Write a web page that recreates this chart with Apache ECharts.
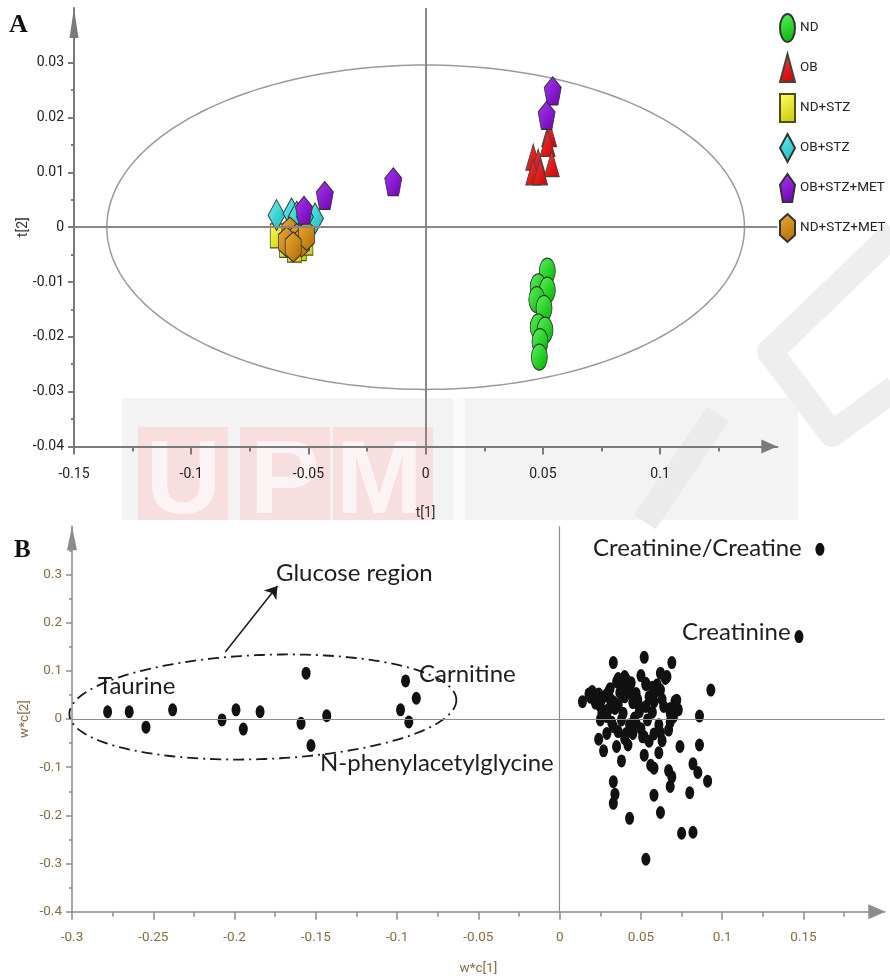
<!DOCTYPE html>
<html>
<head>
<meta charset="utf-8">
<script src="https://cdn.jsdelivr.net/npm/echarts@6/dist/echarts.min.js"></script>
<style>
  html, body { margin: 0; padding: 0; background: #ffffff; }
  #chart { width: 890px; height: 980px; }
</style>
</head>
<body>
<div id="chart"></div>
<script>
// ---------- Panel A: OPLS-DA score plot, t[1] vs t[2] ----------
const GROUP_NAMES = ['ND', 'OB', 'ND+STZ', 'OB+STZ', 'OB+STZ+MET', 'ND+STZ+MET'];

const ND_SCORES = [
  [0.0519, -0.0080], [0.0480, -0.0109], [0.0519, -0.0115], [0.0474, -0.0132],
  [0.0505, -0.0148], [0.0480, -0.0182], [0.0509, -0.0188], [0.0488, -0.0209],
  [0.0485, -0.0237]
];
const OB_SCORES = [
  [0.0527, 0.0171], [0.0520, 0.0153], [0.0459, 0.0128], [0.0480, 0.0119],
  [0.0538, 0.0116], [0.0459, 0.0101], [0.0488, 0.0101]
];
const ND_STZ_SCORES = [
  [-0.0633, -0.0016], [-0.0539, -0.0039], [-0.0593, -0.0033], [-0.0511, -0.0029],
  [-0.0560, -0.0042]
];
const OB_STZ_SCORES = [
  [-0.0636, 0.0022], [-0.0572, 0.0025], [-0.0550, 0.0019], [-0.0472, 0.0016],
  [-0.0515, 0.0019]
];
const OB_STZ_MET_SCORES = [
  [0.0542, 0.0249], [0.0516, 0.0204], [-0.0138, 0.0083], [-0.0430, 0.0058],
  [-0.0519, 0.0031]
];
const ND_STZ_MET_SCORES = [
  [-0.0579, -0.0009], [-0.0550, -0.0021], [-0.0529, -0.0027], [-0.0593, -0.0027],
  [-0.0508, -0.0015], [-0.0565, -0.0036]
];

// Hotelling's T2 ellipse semi-axes (t[1], t[2])
const T2_SEMI_AXES = [0.136, 0.0296];

const A_X_TICKS = [-0.15, -0.1, -0.05, 0, 0.05, 0.1];
const A_Y_TICKS = [-0.04, -0.03, -0.02, -0.01, 0, 0.01, 0.02, 0.03];

// ---------- Panel B: loading plot, w*c[1] vs w*c[2] ----------
const GLUCOSE_LOADINGS = [
  [-0.2781, 0.015], [-0.2648, 0.015], [-0.2545, -0.017], [-0.2381, 0.019],
  [-0.2077, -0.002], [-0.1991, 0.019], [-0.1946, -0.021], [-0.1843, 0.015],
  [-0.1560, 0.095], [-0.1591, -0.009], [-0.1433, 0.007], [-0.1530, -0.055],
  [-0.0948, 0.079], [-0.0882, 0.043], [-0.0979, 0.019], [-0.0928, -0.006]
];
const CREATININE_LOADINGS = [[0.1601, 0.352], [0.1472, 0.171]];
const OTHER_LOADINGS = [
  [0.033, 0.117], [0.052, 0.128], [0.069, 0.117], [0.093, 0.060], [0.014, 0.036],
  [0.086, 0.006], [0.024, -0.042], [0.027, -0.066], [0.038, -0.087], [0.074, -0.057],
  [0.086, -0.054], [0.061, -0.070], [0.052, -0.075], [0.058, -0.102], [0.056, -0.096],
  [0.067, -0.107], [0.069, -0.120], [0.068, -0.140], [0.082, -0.093], [0.085, -0.111],
  [0.091, -0.129], [0.080, -0.153], [0.033, -0.130], [0.034, -0.156], [0.033, -0.175],
  [0.043, -0.206], [0.058, -0.158], [0.062, -0.194], [0.075, -0.237], [0.082, -0.235],
  [0.053, -0.291], [0.071, 0.037], [0.065, 0.084], [0.062, 0.095], [0.040, 0.088],
  [0.035, 0.077], [0.053, 0.071], [0.068, 0.022], [0.068, -0.006], [0.067, -0.023],
  [0.062, -0.028], [0.052, -0.037], [0.042, -0.054], [0.035, -0.057],
  [0.023, 0.039], [0.020, 0.057], [0.025, 0.026], [0.029, 0.005], [0.033, 0.036],
  [0.036, 0.084], [0.041, 0.081], [0.040, 0.046], [0.047, 0.053], [0.049, 0.026],
  [0.053, 0.074], [0.054, -0.002], [0.058, 0.036], [0.062, 0.060], [0.064, 0.026],
  [0.066, 0.088], [0.068, 0.012], [0.072, 0.039], [0.033, -0.016], [0.038, -0.002],
  [0.025, -0.002], [0.029, -0.030], [0.041, -0.030], [0.047, -0.009], [0.051, -0.037],
  [0.018, 0.052], [0.019, 0.045], [0.021, 0.048], [0.022, 0.033], [0.024, 0.052],
  [0.026, 0.042], [0.027, 0.016], [0.028, 0.048], [0.030, 0.056], [0.030, 0.020],
  [0.031, 0.063], [0.032, -0.007], [0.034, 0.022], [0.036, 0.030], [0.037, 0.055],
  [0.039, 0.012], [0.042, 0.064], [0.043, -0.012], [0.045, 0.034], [0.046, 0.002],
  [0.049, 0.015], [0.055, 0.046], [0.057, 0.014], [0.059, 0.058], [0.061, -0.012],
  [0.063, 0.041], [0.060, 0.071], [0.070, 0.005], [0.073, 0.019], [0.036, -0.026],
  [0.040, -0.041], [0.045, -0.030], [0.050, -0.020], [0.055, -0.046], [0.058, -0.031],
  [0.063, -0.045], [0.044, 0.075], [0.050, 0.090], [0.057, 0.066], [0.026, 0.010],
  [0.031, 0.042], [0.038, 0.067], [0.044, 0.052], [0.048, 0.040], [0.053, 0.026]
];

// Dash-dot outline around the glucose signals: centre, semi-axes, tilt (deg)
const GLUCOSE_OUTLINE_CENTER = [-0.1826, 0.0249];
const GLUCOSE_OUTLINE_SEMI_AXES = [0.1191, 0.108];
const GLUCOSE_OUTLINE_TILT = 2.2;
// Pointer from the outline to its caption
const GLUCOSE_POINTER = [[-0.2057, 0.139], [-0.1736, 0.276]];

const B_X_TICKS = [-0.3, -0.25, -0.2, -0.15, -0.1, -0.05, 0, 0.05, 0.1, 0.15];
const B_Y_TICKS = [-0.4, -0.3, -0.2, -0.1, 0, 0.1, 0.2, 0.3];

// ---------- styling ----------
const TICK_FONT = "Roboto, 'Liberation Sans', sans-serif";
const HUMAN = "Lato, 'Open Sans', sans-serif";
const B_LABEL_COLOR = '#8a6a40';

function grad(c1, c2) {
  return { type: 'linear', x: 0, y: 0, x2: 1, y2: 1,
    colorStops: [{ offset: 0, color: c1 }, { offset: 1, color: c2 }] };
}
const PENTAGON = 'path://M50 0 L100 38 L81 100 L19 100 L0 38 Z';
const HEXAGON = 'path://M50 0 L100 25 L100 75 L50 100 L0 75 L0 25 Z';
const OVAL = 'path://M0 50 A50 50 0 1 0 100 50 A50 50 0 1 0 0 50 Z';

function fmt(v) { return String(+Number(v).toFixed(3)); }

function scoreSeries(name, data, symbol, size, c1, c2, border) {
  return {
    name, type: 'scatter', xAxisIndex: 0, yAxisIndex: 0, data,
    symbol, symbolSize: size, symbolKeepAspect: false,
    itemStyle: { color: grad(c1, c2), borderColor: border, borderWidth: 1, opacity: 1 },
    emphasis: { disabled: true }
  };
}

function ellipseSeries(gridIdx, center, semi, tiltDeg, stroke, width, dash) {
  return {
    type: 'custom', xAxisIndex: gridIdx, yAxisIndex: gridIdx, silent: true,
    data: [center], z: 1,
    renderItem: function (params, api) {
      const c = api.coord([api.value(0), api.value(1)]);
      const r = api.size(semi);
      const t = tiltDeg * Math.PI / 180;
      const pts = [];
      for (let i = 0; i <= 240; i++) {
        const a = i / 240 * Math.PI * 2;
        const ex = r[0] * Math.cos(a), ey = r[1] * Math.sin(a);
        pts.push([c[0] + ex * Math.cos(t) + ey * Math.sin(t),
                  c[1] - ex * Math.sin(t) + ey * Math.cos(t)]);
      }
      return { type: 'polyline', shape: { points: pts },
        style: { stroke, lineWidth: width, fill: null, lineDash: dash || null } };
    }
  };
}

// Faint repository watermark behind panel A
const watermark = [
  { type: 'rect', z: -5, silent: true, shape: { x: 122, y: 398, width: 676, height: 122 },
    style: { fill: '#f3f3f3' } },
  { type: 'rect', z: -5, silent: true, shape: { x: 453, y: 398, width: 12, height: 122 },
    style: { fill: '#fafafa' } },
  { type: 'rect', z: -4, silent: true, shape: { x: 138, y: 427, width: 90, height: 93 },
    style: { fill: '#f7dfdf' } },
  { type: 'rect', z: -4, silent: true, shape: { x: 240, y: 427, width: 90, height: 93 },
    style: { fill: '#f7dfdf' } },
  { type: 'rect', z: -4, silent: true, shape: { x: 333, y: 427, width: 100, height: 93 },
    style: { fill: '#f7dfdf' } },
  { type: 'text', z: -3, silent: true, left: 146, top: 432,
    style: { text: 'U', font: "bold 104px 'Liberation Sans', sans-serif", fill: '#fcf4f4' } },
  { type: 'text', z: -3, silent: true, left: 250, top: 432,
    style: { text: 'P', font: "bold 104px 'Liberation Sans', sans-serif", fill: '#fcf4f4' } },
  { type: 'text', z: -3, silent: true, left: 336, top: 432,
    style: { text: 'M', font: "bold 104px 'Liberation Sans', sans-serif", fill: '#fcf4f4' } },
  { type: 'line', z: -2, silent: true, shape: { x1: 645, y1: 522, x2: 718, y2: 414 },
    style: { stroke: '#ebebeb', lineWidth: 26 } },
  { type: 'polyline', z: -2, silent: true,
    shape: { points: [[895, 232], [770, 352], [832, 434], [895, 388]] },
    style: { stroke: '#eeeeee', lineWidth: 26, fill: null, lineJoin: 'round' } }
];

const chart = echarts.init(document.getElementById('chart'), null, { renderer: 'canvas' });

const axisA = { color: '#7a7a7a', width: 2 };
const axisB = { color: '#8c8c8c', width: 1.5 };

const option = {
  backgroundColor: '#ffffff',
  animation: false,
  grid: [
    { left: 74, top: 8, width: 703.3, height: 438.4 },
    { left: 72, top: 526.2, width: 812.8, height: 385.6 }
  ],
  xAxis: [
    {
      gridIndex: 0, type: 'value', min: -0.15, max: 0.15, interval: 0.05,
      name: 't[1]', nameLocation: 'middle', nameGap: 60,
      nameTextStyle: { fontFamily: TICK_FONT, fontSize: 14, color: '#333' },
      axisLine: { onZero: false, lineStyle: axisA, symbol: ['none', 'triangle'], symbolSize: [14, 16], symbolOffset: [0, -8] },
      axisTick: { customValues: A_X_TICKS, length: 8, lineStyle: axisA },
      minorTick: { show: true, splitNumber: 2, length: 5, lineStyle: axisA },
      axisLabel: { customValues: A_X_TICKS, formatter: fmt, margin: 21,
        fontFamily: TICK_FONT, fontSize: 14, color: '#222' },
      splitLine: { show: false }
    },
    {
      gridIndex: 1, type: 'value', min: -0.3, max: 0.2, interval: 0.05,
      name: 'w*c[1]', nameLocation: 'middle', nameGap: 50,
      nameTextStyle: { fontFamily: TICK_FONT, fontSize: 13.5, color: B_LABEL_COLOR },
      axisLine: { onZero: false, lineStyle: axisB, symbol: ['none', 'triangle'], symbolSize: [15, 17], symbolOffset: [0, -8] },
      axisTick: { customValues: B_X_TICKS, length: 8, lineStyle: axisB },
      minorTick: { show: true, splitNumber: 2, length: 5, lineStyle: axisB },
      axisLabel: { customValues: B_X_TICKS, formatter: fmt, margin: 19,
        fontFamily: TICK_FONT, fontSize: 13.5, color: B_LABEL_COLOR },
      splitLine: { show: false }
    }
  ],
  yAxis: [
    {
      gridIndex: 0, type: 'value', min: -0.04, max: 0.04, interval: 0.01,
      name: 't[2]', nameLocation: 'middle', nameGap: 44, nameMoveOverlap: false,
      nameTextStyle: { fontFamily: TICK_FONT, fontSize: 14, color: '#333' },
      axisLine: { onZero: false, lineStyle: axisA, symbol: ['none', 'triangle'], symbolSize: [9, 30], symbolOffset: [0, -15] },
      axisTick: { customValues: A_Y_TICKS, length: 6, lineStyle: axisA },
      minorTick: { show: true, splitNumber: 2, length: 3, lineStyle: axisA },
      axisLabel: { customValues: A_Y_TICKS, formatter: fmt, margin: 10,
        fontFamily: TICK_FONT, fontSize: 14, color: '#222' },
      splitLine: { show: false }
    },
    {
      gridIndex: 1, type: 'value', min: -0.4, max: 0.4, interval: 0.1,
      name: 'w*c[2]', nameLocation: 'middle', nameGap: 40, nameMoveOverlap: false,
      nameTextStyle: { fontFamily: TICK_FONT, fontSize: 13.5, color: B_LABEL_COLOR },
      axisLine: { onZero: false, lineStyle: axisB, symbol: ['none', 'triangle'], symbolSize: [10, 24], symbolOffset: [0, -12] },
      axisTick: { customValues: B_Y_TICKS, length: 6, lineStyle: axisB },
      minorTick: { show: true, splitNumber: 2, length: 3, lineStyle: axisB },
      axisLabel: { customValues: B_Y_TICKS, formatter: fmt, margin: 10,
        fontFamily: TICK_FONT, fontSize: 13.5, color: B_LABEL_COLOR },
      splitLine: { show: false }
    }
  ],
  legend: {
    data: [{ name: 'ND', icon: OVAL }].concat(GROUP_NAMES.slice(1)),
    orient: 'vertical', left: 779, top: 13, padding: 0,
    itemWidth: 15, itemHeight: 28, itemGap: 10, symbolKeepAspect: false,
    textStyle: { fontFamily: TICK_FONT, fontSize: 13.5, color: '#222' },
    selectedMode: false
  },
  graphic: watermark.concat([
    { type: 'text', left: 9, top: 12, z: 10,
      style: { text: 'A', font: "bold 26px 'Liberation Serif', 'DejaVu Serif', serif", fill: '#111' } },
    { type: 'text', left: 14, top: 538, z: 10,
      style: { text: 'B', font: "bold 25px 'Liberation Serif', 'DejaVu Serif', serif", fill: '#111' } },
    { type: 'text', left: 276, top: 561, z: 10,
      style: { text: 'Glucose region', font: '24px ' + HUMAN, fill: '#1e1e1e' } },
    { type: 'text', left: 98, top: 674, z: 10,
      style: { text: 'Taurine', font: '24px ' + HUMAN, fill: '#1e1e1e' } },
    { type: 'text', left: 419, top: 662, z: 10,
      style: { text: 'Carnitine', font: '24px ' + HUMAN, fill: '#1e1e1e' } },
    { type: 'text', left: 320, top: 751, z: 10,
      style: { text: 'N-phenylacetylglycine', font: '24px ' + HUMAN, fill: '#1e1e1e' } },
    { type: 'text', left: 593, top: 536, z: 10,
      style: { text: 'Creatinine/Creatine', font: '24px ' + HUMAN, fill: '#1e1e1e' } },
    { type: 'text', left: 682, top: 620, z: 10,
      style: { text: 'Creatinine', font: '24px ' + HUMAN, fill: '#1e1e1e' } }
  ]),
  series: [
    ellipseSeries(0, [0, 0], T2_SEMI_AXES, 0, '#9a9a9a', 1.5, null),
    {
      type: 'scatter', xAxisIndex: 0, yAxisIndex: 0, data: [], silent: true,
      markLine: {
        silent: true, symbol: ['none', 'none'], label: { show: false },
        lineStyle: { color: '#888888', width: 2, type: 'solid' },
        data: [{ yAxis: 0 }, { xAxis: 0 }]
      }
    },
    scoreSeries('ND', ND_SCORES, 'circle', [16, 26], '#5cf55c', '#00b000', '#333'),
    scoreSeries('OB', OB_SCORES, 'triangle', [15, 26], '#ff3a3a', '#c80000', '#444'),
    scoreSeries('ND+STZ', ND_STZ_SCORES, 'rect', [14, 24], '#ffff66', '#c8c800', '#4d4d1a'),
    scoreSeries('OB+STZ', OB_STZ_SCORES, 'diamond', [17, 31], '#6af2f2', '#14b4b4', '#333'),
    scoreSeries('ND+STZ+MET', ND_STZ_MET_SCORES, HEXAGON, [16, 30], '#eeaa3a', '#b06a00', '#333'),
    scoreSeries('OB+STZ+MET', OB_STZ_MET_SCORES, PENTAGON, [17, 28], '#a838ee', '#6c00b4', '#333'),

    ellipseSeries(1, GLUCOSE_OUTLINE_CENTER, GLUCOSE_OUTLINE_SEMI_AXES, GLUCOSE_OUTLINE_TILT,
      '#1a1a1a', 1.8, [11, 5, 2, 5]),
    {
      name: 'loadings', type: 'scatter', xAxisIndex: 1, yAxisIndex: 1,
      data: GLUCOSE_LOADINGS.concat(CREATININE_LOADINGS, OTHER_LOADINGS),
      symbol: 'circle', symbolSize: [9, 13],
      itemStyle: { color: '#111111', opacity: 1 },
      emphasis: { disabled: true },
      markLine: {
        silent: true, symbol: ['none', 'none'], label: { show: false },
        lineStyle: { color: '#8c8c8c', width: 1.2, type: 'solid' },
        data: [
          { yAxis: 0 }, { xAxis: 0 },
          [
            { coord: GLUCOSE_POINTER[0], symbol: 'none', lineStyle: { color: '#1a1a1a', width: 1.5 } },
            { coord: GLUCOSE_POINTER[1], symbol: 'arrow', symbolSize: 12 }
          ]
        ]
      }
    }
  ]
};

chart.setOption(option);
</script>
</body>
</html>
